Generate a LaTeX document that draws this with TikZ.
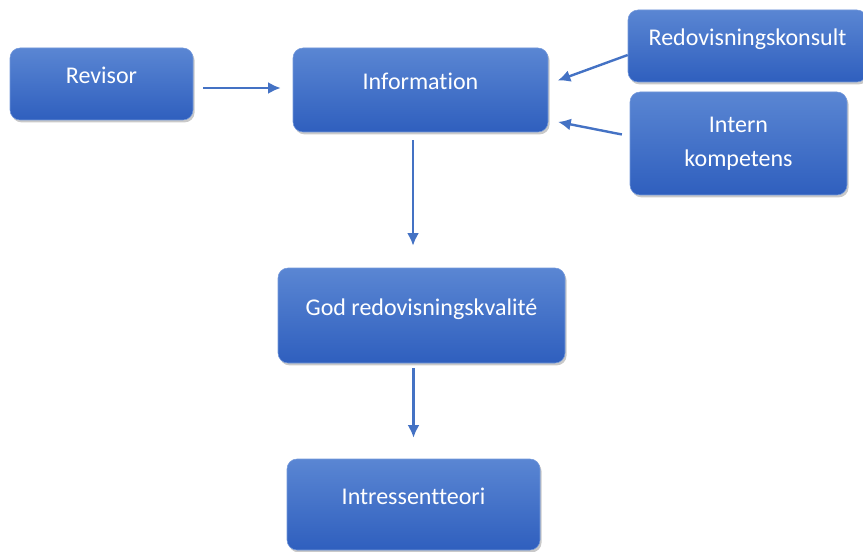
\documentclass[tikz,border=0pt]{standalone}
\usepackage{fontspec}
\setmainfont{Carlito}[Ligatures=NoCommon]
\usetikzlibrary{arrows.meta,shadows}

\definecolor{boxtop}{HTML}{5A86D3}
\definecolor{boxbot}{HTML}{2F5FBE}
\definecolor{arrowblue}{HTML}{4472C4}

\tikzset{
  box/.style={rectangle, rounded corners=7.5pt, top color=boxtop, bottom color=boxbot,
    draw=boxtop!85!white, line width=0.4pt, text=white,
    font=\fontsize{18}{25.5}\selectfont, text height=12pt, text depth=12pt,
    drop shadow={shadow xshift=1.2pt, shadow yshift=-1.8pt, opacity=0.3, fill=black!70}},
  arr/.style={->, draw=arrowblue, line width=1.8pt},
}

\begin{document}
\begin{tikzpicture}[x=0.75pt, y=-0.75pt, >={Latex[length=9.5pt,width=9pt]}]
			%%% Bounding box
			\useasboundingbox (0,0) rectangle (863,552);
			%%% Boxes
			\node[box, minimum width=137.25pt, minimum height=54pt] (revisor) at (101.5,84) {Revisor};
			\node[box, minimum width=191.25pt, minimum height=63pt] (info) at (420.5,90) {Information};
			\node[box, minimum width=179.25pt, minimum height=54pt] (konsult) at (747.5,46) {Redovisningskonsult};
			\node[box, minimum width=162.75pt, minimum height=77.25pt, align=center,
				text height={}, text depth={}] (intern) at (738.5,143.5) {Intern\\kompetens};
			\node[box, minimum width=215.25pt, minimum height=71.25pt] (kvalitet) at (421.5,315.5) {God redovisningskvalité};
			\node[box, minimum width=189.75pt, minimum height=68.25pt] (teori) at (413.5,504.5) {Intressentteori};
			%%% Arrows
			\draw[arr, shorten <=7.5pt, shorten >=9pt] ([yshift=-3pt]revisor.east) -- ([yshift=1.5pt]info.west);
			\draw[arr, shorten >=7.5pt] ([yshift=-6.75pt]konsult.west) -- ([yshift=4.5pt]info.east);
			\draw[arr, shorten <=6pt, shorten >=7.5pt] ([yshift=5.6pt]intern.west) -- ([yshift=-22.5pt]info.east);
			\draw[arr, shorten <=6pt, shorten >=16.5pt] ([xshift=-5.6pt]info.south) -- ([xshift=-5.6pt]info.south |- kvalitet.north);
			\draw[arr, shorten <=3.75pt, shorten >=15.75pt] (kvalitet.south -| teori.north) -- (teori.north);
		\end{tikzpicture}
\end{document}
